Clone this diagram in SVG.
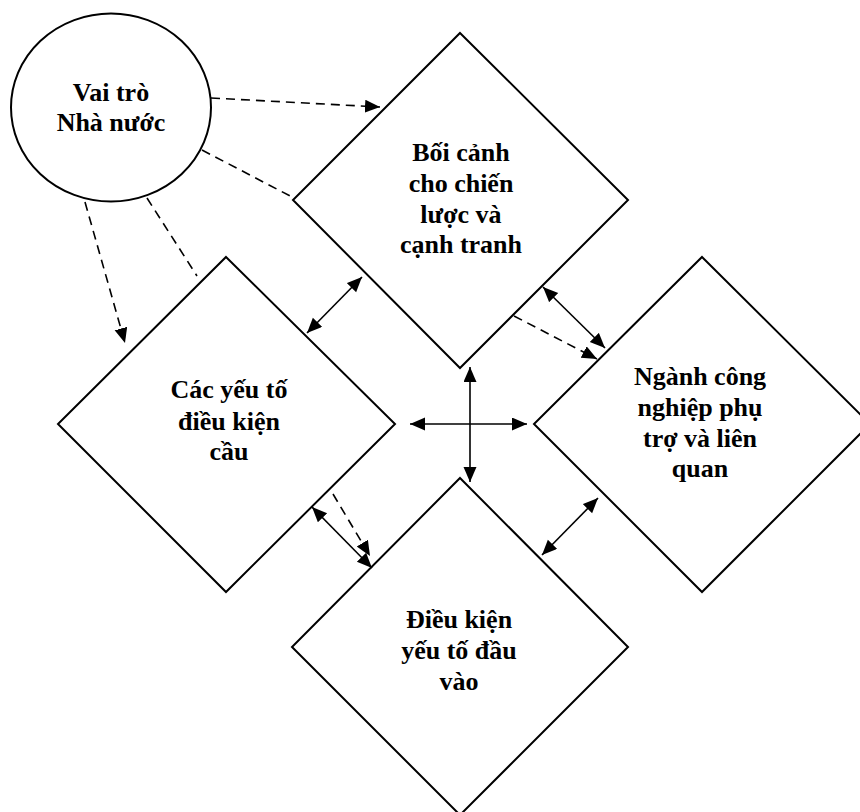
<svg xmlns="http://www.w3.org/2000/svg" width="860" height="812" viewBox="0 0 860 812">
<style>
.shape{fill:#fff;stroke:#000;stroke-width:2}
.lbl{font-family:"Liberation Serif","Times New Roman",serif;font-weight:bold;font-size:26px;fill:#000;text-anchor:middle}
.solid{fill:none;stroke:#000;stroke-width:1.6}
.dash{fill:none;stroke:#000;stroke-width:1.6;stroke-dasharray:9 6}
</style>
<defs>
<marker id="ah" markerUnits="userSpaceOnUse" markerWidth="16" markerHeight="14" refX="15" refY="6.5" orient="auto-start-reverse">
<path d="M0,0 L15,6.5 L0,13 z" fill="#000"/>
</marker>
</defs>
<rect width="860" height="812" fill="#fff"/>
<g id="node-strategy">
<polygon class="shape" points="460,33 628,200 460,368 293,200"/>
<text class="lbl" x="461" y="161">Bối cảnh</text>
<text class="lbl" x="461" y="192">cho chiến</text>
<text class="lbl" x="461" y="223">lược và</text>
<text class="lbl" x="461" y="253">cạnh tranh</text>
</g>
<g id="node-demand">
<polygon class="shape" points="226,257 395,424 226,592 58,424"/>
<text class="lbl" x="229" y="398">Các yếu tố</text>
<text class="lbl" x="229" y="430">điều kiện</text>
<text class="lbl" x="229" y="460">cầu</text>
</g>
<g id="node-related">
<polygon class="shape" points="702,257 870,424 702,592 534,424"/>
<text class="lbl" x="700" y="385">Ngành công</text>
<text class="lbl" x="700" y="415.5">nghiệp phụ</text>
<text class="lbl" x="700" y="446.5">trợ và liên</text>
<text class="lbl" x="700" y="477">quan</text>
</g>
<g id="node-factor">
<polygon class="shape" points="460,478 628,647 460,815 292,647"/>
<text class="lbl" x="459" y="628">Điều kiện</text>
<text class="lbl" x="459" y="659">yếu tố đầu</text>
<text class="lbl" x="459" y="690">vào</text>
</g>
<g id="node-state">
<ellipse class="shape" cx="111" cy="107.5" rx="100" ry="94"/>
<text class="lbl" x="111" y="100.5">Vai trò</text>
<text class="lbl" x="111" y="131">Nhà nước</text>
</g>
<g id="connectors">
<path class="dash" d="M211,98 L380,107" marker-end="url(#ah)"/>
<path class="dash" d="M202,150 L292,197"/>
<path class="dash" d="M147,198 L197,276"/>
<path class="dash" d="M85,202 L125,343" marker-end="url(#ah)"/>
<path class="solid" d="M362,277 L307,333" marker-start="url(#ah)" marker-end="url(#ah)"/>
<path class="solid" d="M543,287 L605,348" marker-start="url(#ah)" marker-end="url(#ah)"/>
<path class="dash" d="M514,316 L597,359" marker-end="url(#ah)"/>
<path class="solid" d="M470,367 L470,482" marker-start="url(#ah)" marker-end="url(#ah)"/>
<path class="solid" d="M410,424 L527,424" marker-start="url(#ah)" marker-end="url(#ah)"/>
<path class="solid" d="M312,507 L372,568" marker-start="url(#ah)" marker-end="url(#ah)"/>
<path class="dash" d="M333,494 L370,556" marker-end="url(#ah)"/>
<path class="solid" d="M598,498 L542,555" marker-start="url(#ah)" marker-end="url(#ah)"/>
</g>
</svg>
